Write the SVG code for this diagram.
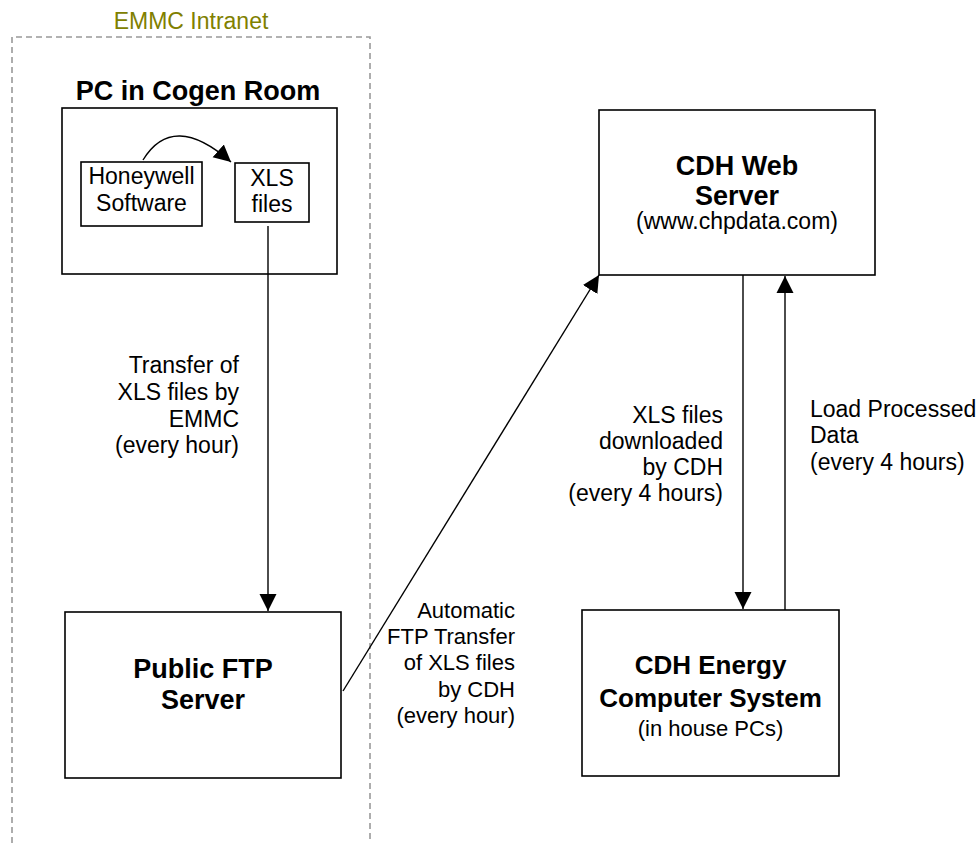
<svg xmlns="http://www.w3.org/2000/svg" width="978" height="843" viewBox="0 0 978 843">
<style>
text{font-family:"Liberation Sans",Arial,sans-serif;fill:#000}
.r{font-size:23px}
.s{font-size:22px}
.b{font-size:27px;font-weight:bold}
.box{fill:#fff;stroke:#000;stroke-width:1.6}
.ln{fill:none;stroke:#000;stroke-width:1.4}
.m{text-anchor:middle}
.e{text-anchor:end}
</style>
<defs>
<marker id="ah" markerUnits="userSpaceOnUse" markerWidth="18" markerHeight="18" viewBox="0 0 18 18" refX="17" refY="9" orient="auto">
<path d="M0,0.5 L17,9 L0,17.5 Z" fill="#000"/>
</marker>
</defs>
<g id="intranet">
<path d="M12,843 L12,37 L370,37 L370,843" fill="none" stroke="#999" stroke-width="1.6" stroke-dasharray="6,4"/>
<text x="191" y="29" class="r m" style="fill:#808000">EMMC Intranet</text>
</g>
<g id="pc">
<text x="198" y="100" class="b m">PC in Cogen Room</text>
<rect x="62" y="108" width="275" height="166" class="box"/>
</g>
<g id="honeywell">
<rect x="81" y="162" width="121" height="64" class="box"/>
<text x="141.5" y="184" class="r m">Honeywell</text>
<text x="141.5" y="211" class="r m">Software</text>
</g>
<g id="xls">
<rect x="235" y="163" width="74" height="59" class="box"/>
<text x="272" y="186" class="r m">XLS</text>
<text x="272" y="212" class="r m">files</text>
</g>
<g id="ftp">
<rect x="65" y="612" width="276" height="166" class="box"/>
<text x="203" y="678" class="b m">Public FTP</text>
<text x="203" y="709" class="b m">Server</text>
</g>
<g id="web">
<rect x="599" y="110" width="276" height="165" class="box"/>
<text x="737" y="175" class="b m">CDH Web</text>
<text x="737" y="205" class="b m">Server</text>
<text x="737" y="229" class="r m">(www.chpdata.com)</text>
</g>
<g id="energy">
<rect x="582" y="610" width="257" height="166" class="box"/>
<text x="710.5" y="674" class="m" style="font-size:26px;font-weight:bold">CDH Energy</text>
<text x="710.5" y="707" class="m" style="font-size:26px;font-weight:bold">Computer System</text>
<text x="710.5" y="736" class="s m">(in house PCs)</text>
</g>
<g id="connectors">
<path d="M143,160 Q173,111 231,162" class="ln" marker-end="url(#ah)"/>
<path d="M268,226 L268,611" class="ln" marker-end="url(#ah)"/>
<path d="M343,691 L599,275" class="ln" marker-end="url(#ah)"/>
<path d="M743,275 L743,609" class="ln" marker-end="url(#ah)"/>
<path d="M785,610 L785,276" class="ln" marker-end="url(#ah)"/>
</g>
<g id="labels">
<text class="r e" x="239"><tspan x="239" y="373">Transfer of</tspan><tspan x="239" y="400">XLS files by</tspan><tspan x="239" y="427">EMMC</tspan><tspan x="239" y="453">(every hour)</tspan></text>
<text class="s e" x="515"><tspan x="515" y="618">Automatic</tspan><tspan x="515" y="644">FTP Transfer</tspan><tspan x="515" y="670">of XLS files</tspan><tspan x="515" y="697">by CDH</tspan><tspan x="515" y="723">(every hour)</tspan></text>
<text class="r e" x="723"><tspan x="723" y="423">XLS files</tspan><tspan x="723" y="449">downloaded</tspan><tspan x="723" y="475">by CDH</tspan><tspan x="723" y="501">(every 4 hours)</tspan></text>
<text class="r" x="810"><tspan x="810" y="417">Load Processed</tspan><tspan x="810" y="443">Data</tspan><tspan x="810" y="470">(every 4 hours)</tspan></text>
</g>
</svg>
